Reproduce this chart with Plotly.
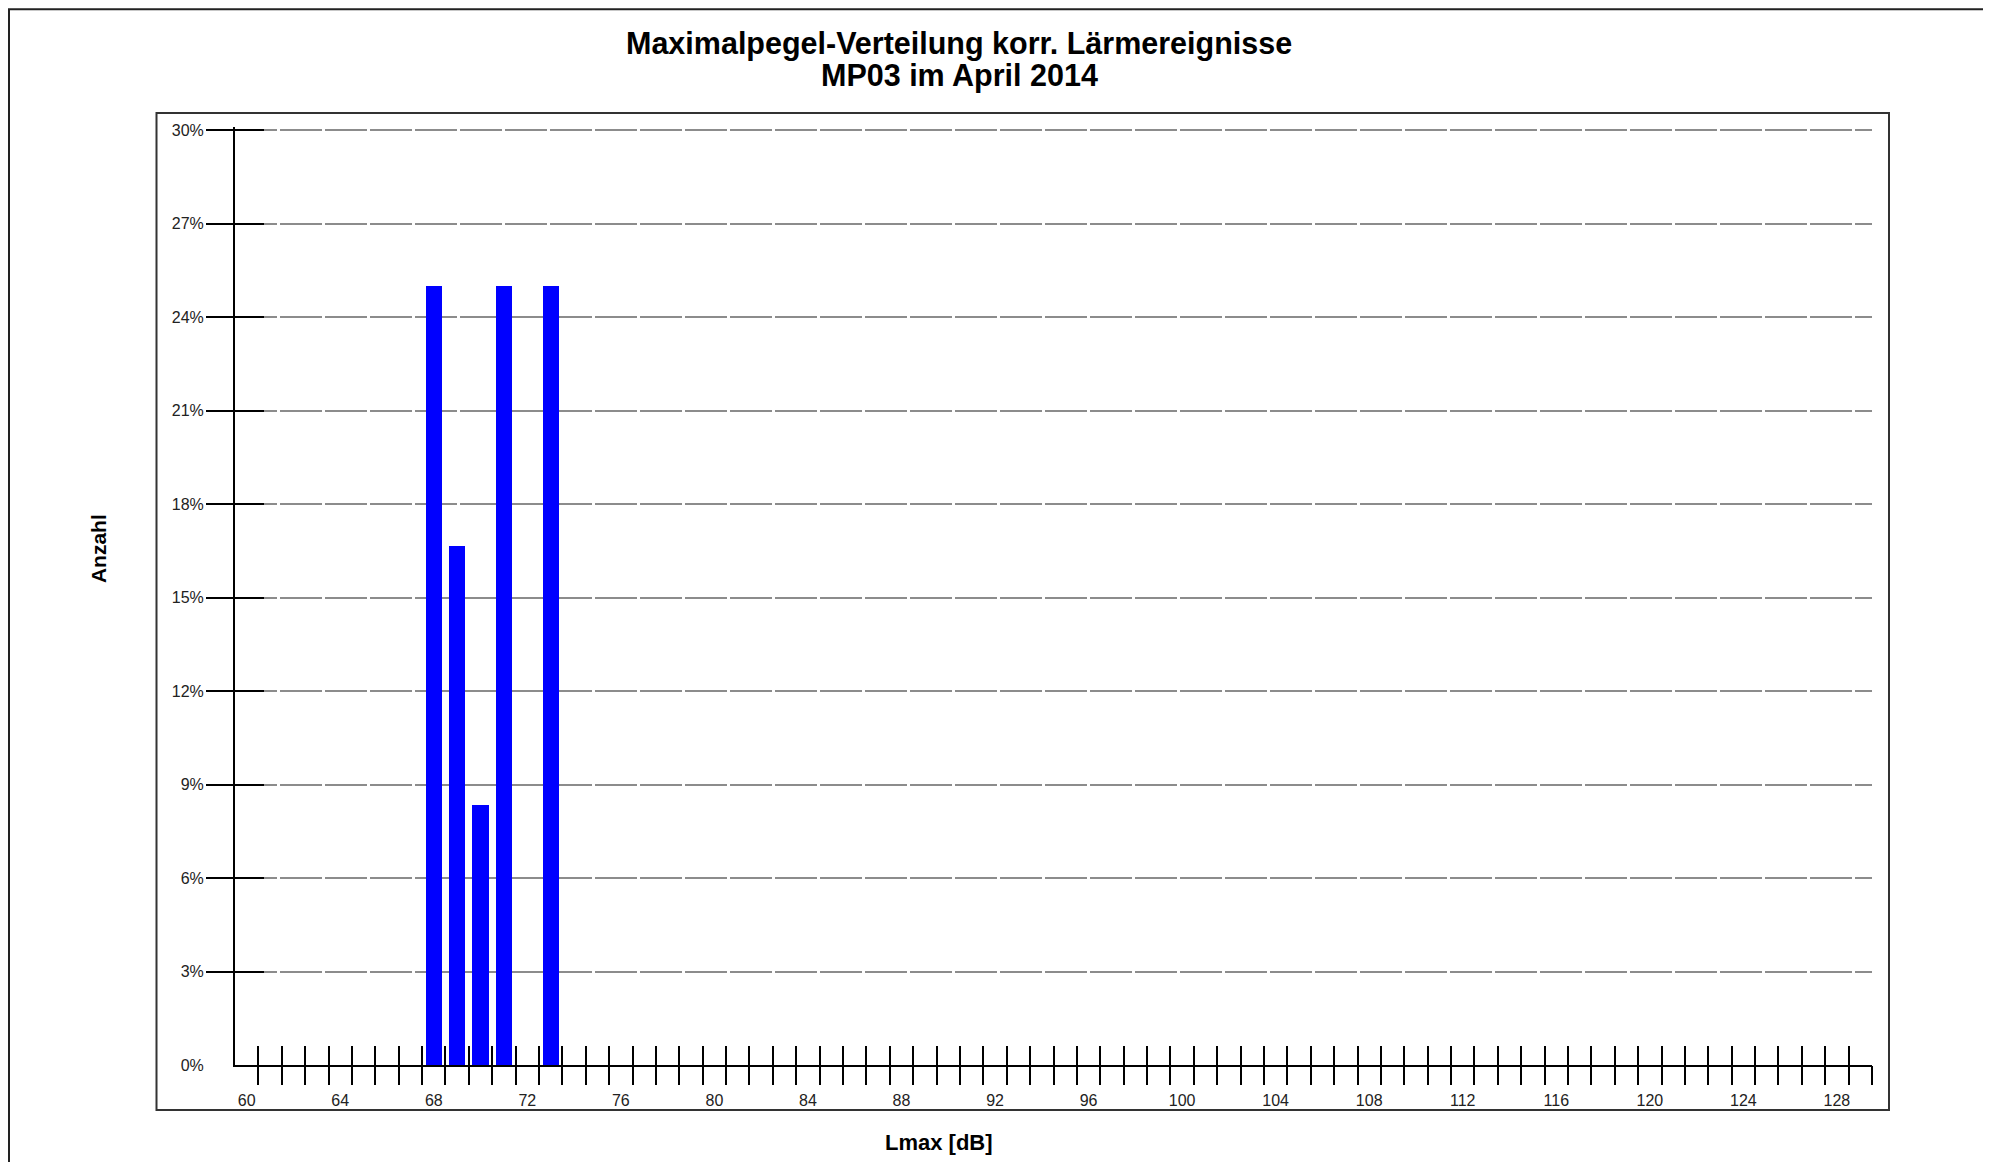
import plotly.graph_objects as go

# ---- data ----
levels_db = [68, 69, 70, 71, 73]
share_pct = [25.0, 16.67, 8.33, 25.0, 25.0]

x_label_vals = list(range(60, 129, 4))
x_bin_edges = [v + 0.5 for v in range(60, 130)]
y_tick_vals = list(range(0, 31, 3))
y_tick_text = [f"{v}%" for v in y_tick_vals]
y_cross_vals = y_tick_vals[1:]

title_line1 = "Maximalpegel-Verteilung korr. Lärmereignisse"
title_line2 = "MP03 im April 2014"
x_title = "Lmax [dB]"
y_title = "Anzahl"

# ---- geometry (window pixels; page body has an 8px margin) ----
OFF = 8
W, H = 1991 - OFF, 1162 - OFF
xr = [59.5, 129.5]
yr = [0, 30.1]
L, R, B = 235, 1872, 1065
T = B - (1065 - 130) * yr[1] / 30.0
PW, PH = R - L, B - T


def px(x):
    return (x - L) / PW


def py(y):
    return (B - y) / PH


FONT = "Liberation Sans, Arial, sans-serif"

fig = go.Figure()
fig.add_trace(go.Bar(x=levels_db, y=share_pct, width=0.7,
                     marker=dict(color="#0000FF", line=dict(width=0)),
                     showlegend=False))
# helper empty traces so overlay axes are drawn
fig.add_trace(go.Scatter(x=[None], y=[None], xaxis="x2", yaxis="y", showlegend=False, hoverinfo="skip"))
fig.add_trace(go.Scatter(x=[None], y=[None], xaxis="x3", yaxis="y", showlegend=False, hoverinfo="skip"))
fig.add_trace(go.Scatter(x=[None], y=[None], xaxis="x", yaxis="y2", showlegend=False, hoverinfo="skip"))
fig.add_trace(go.Scatter(x=[None], y=[None], xaxis="x", yaxis="y3", showlegend=False, hoverinfo="skip"))

tickfont = dict(family=FONT, size=16, color="#222222")

fig.update_layout(
    width=W, height=H,
    margin=dict(l=L - OFF, r=(W + OFF) - R, t=T - OFF, b=(H + OFF) - B),
    paper_bgcolor="white", plot_bgcolor="white",
    bargap=0,
    xaxis=dict(range=xr, tickmode="array", tickvals=x_label_vals,
               ticks="outside", ticklen=20, tickcolor="rgba(0,0,0,0)",
               tickfont=tickfont, showgrid=False, zeroline=False,
               showline=True, linecolor="black", linewidth=2),
    xaxis2=dict(range=xr, overlaying="x", anchor="y", side="bottom",
                tickmode="array", tickvals=x_bin_edges, ticks="outside",
                ticklen=19, tickwidth=2, tickcolor="black",
                showticklabels=False, showgrid=False, zeroline=False, showline=False),
    xaxis3=dict(range=xr, overlaying="x", anchor="y", side="bottom",
                tickmode="array", tickvals=x_bin_edges, ticks="inside",
                ticklen=19, tickwidth=2, tickcolor="black",
                showticklabels=False, showgrid=False, zeroline=False, showline=False),
    yaxis=dict(range=yr, tickmode="array", tickvals=y_tick_vals, ticktext=y_tick_text,
               ticks="outside", ticklen=26, tickcolor="rgba(0,0,0,0)",
               tickfont=tickfont, showgrid=True, gridcolor="#8c8c8c",
               gridwidth=1.5, griddash="42px,3px", zeroline=False,
               showline=True, linecolor="black", linewidth=2),
    yaxis2=dict(range=yr, overlaying="y", anchor="x", side="left",
                tickmode="array", tickvals=y_cross_vals, ticks="outside",
                ticklen=28, tickwidth=2, tickcolor="black",
                showticklabels=False, showgrid=False, zeroline=False, showline=False),
    yaxis3=dict(range=yr, overlaying="y", anchor="x", side="left",
                tickmode="array", tickvals=y_cross_vals, ticks="inside",
                ticklen=29, tickwidth=2, tickcolor="black",
                showticklabels=False, showgrid=False, zeroline=False, showline=False),
)

# frames
fig.add_shape(type="rect", xref="paper", yref="paper",
              x0=px(9), x1=px(1989), y0=py(9), y1=py(1250),
              line=dict(color="#222222", width=2), fillcolor="rgba(0,0,0,0)", layer="above")
fig.add_shape(type="rect", xref="paper", yref="paper",
              x0=px(156.5), x1=px(1889), y0=py(113), y1=py(1110),
              line=dict(color="#333333", width=2), fillcolor="rgba(0,0,0,0)", layer="above")

bold = dict(family=FONT, color="black", weight="bold")
fig.add_annotation(text=title_line1, xref="paper", yref="paper", x=px(959), y=py(43),
                   xanchor="center", yanchor="middle", showarrow=False,
                   font=dict(size=30.5, **bold))
fig.add_annotation(text=title_line2, xref="paper", yref="paper", x=px(959), y=py(75),
                   xanchor="center", yanchor="middle", showarrow=False,
                   font=dict(size=30.5, **bold))
fig.add_annotation(text=y_title, xref="paper", yref="paper", x=px(98), y=py(549),
                   xanchor="center", yanchor="middle", textangle=-90, showarrow=False,
                   font=dict(size=21, **bold))
fig.add_annotation(text=x_title, xref="paper", yref="paper", x=px(939), y=py(1143),
                   xanchor="center", yanchor="middle", showarrow=False,
                   font=dict(size=22, **bold))

fig.write_html("out.html")
